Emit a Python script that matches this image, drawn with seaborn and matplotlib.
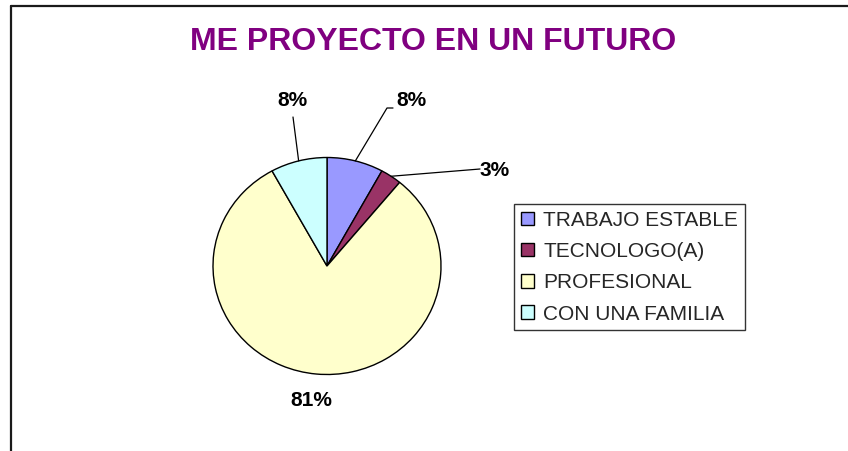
"""Pie chart: ME PROYECTO EN UN FUTURO."""

import matplotlib.pyplot as plt
import numpy as np
import seaborn as sns
from matplotlib.lines import Line2D

categories = ["TRABAJO ESTABLE", "TECNOLOGO(A)", "PROFESIONAL", "CON UNA FAMILIA"]
percentages = [8, 3, 81, 8]
colors = ["#9999FF", "#993366", "#FFFFCC", "#CCFFFF"]

W, H = 848, 451
# pie geometry in pixels (center, horizontal/vertical radius)
CX, CY, RX, RY = 327, 266, 114, 108.5


def px(x, y):
    """pixel (top-left origin) -> pie data coords"""
    return (x - CX) / RX, (CY - y) / RY


sns.set_theme(style="white")
plt.rcParams["font.family"] = ["Liberation Sans", "DejaVu Sans"]

fig = plt.figure(figsize=(W / 100, H / 100), dpi=100)
ax = fig.add_axes([(CX - RX) / W, (H - CY - RY) / H, 2 * RX / W, 2 * RY / H])

wedges, _ = ax.pie(
    percentages,
    colors=colors,
    startangle=90,
    counterclock=False,
    wedgeprops=dict(edgecolor="black", linewidth=1.0),
)
ax.set_aspect("auto")
ax.set_xlim(-1, 1)
ax.set_ylim(-1, 1)
ax.axis("off")

# label text centers and leader line points (pixels)
label_pos = [(411, 100), (495, 171), (311, 400), (292, 100)]
leaders = [[(387, 108), (393, 108)], [(480, 169)], [], [(293, 117)]]

for w, pct, (tx, ty), pts in zip(wedges, percentages, label_pos, leaders):
    mid = np.deg2rad((w.theta1 + w.theta2) / 2)
    if pts:
        xs = [np.cos(mid)] + [px(*p)[0] for p in pts]
        ys = [np.sin(mid)] + [px(*p)[1] for p in pts]
        ax.plot(xs, ys, color="black", lw=0.9, clip_on=False)
    lx, ly = px(tx, ty)
    ax.text(lx, ly, f"{pct}%", ha="center", va="center", fontsize=15,
            fontweight="bold", color="black", clip_on=False)

fig.text(433 / W, 1 - 41.5 / H, "ME PROYECTO EN UN FUTURO", ha="center",
         va="center", fontsize=23, fontweight="bold", color="#800080")

leg = fig.legend(
    wedges, categories,
    loc="upper left", bbox_to_anchor=(514 / W, 1 - 204 / H),
    frameon=True, fancybox=False, shadow=False, fontsize=15,
    handlelength=0.63, handleheight=0.63, handletextpad=0.45,
    labelspacing=0.59, borderpad=0.32, borderaxespad=0,
)
leg.get_frame().set_edgecolor("black")
leg.get_frame().set_linewidth(1.0)

# chart area border (left and top edges visible)
fig.add_artist(Line2D([11 / W, 11 / W], [0, 1 - 6 / H], color="#1a1a1a", lw=1.6))
fig.add_artist(Line2D([11 / W, 1], [1 - 6 / H, 1 - 6 / H], color="#1a1a1a", lw=1.6))

plt.savefig("out.png", dpi=100)
